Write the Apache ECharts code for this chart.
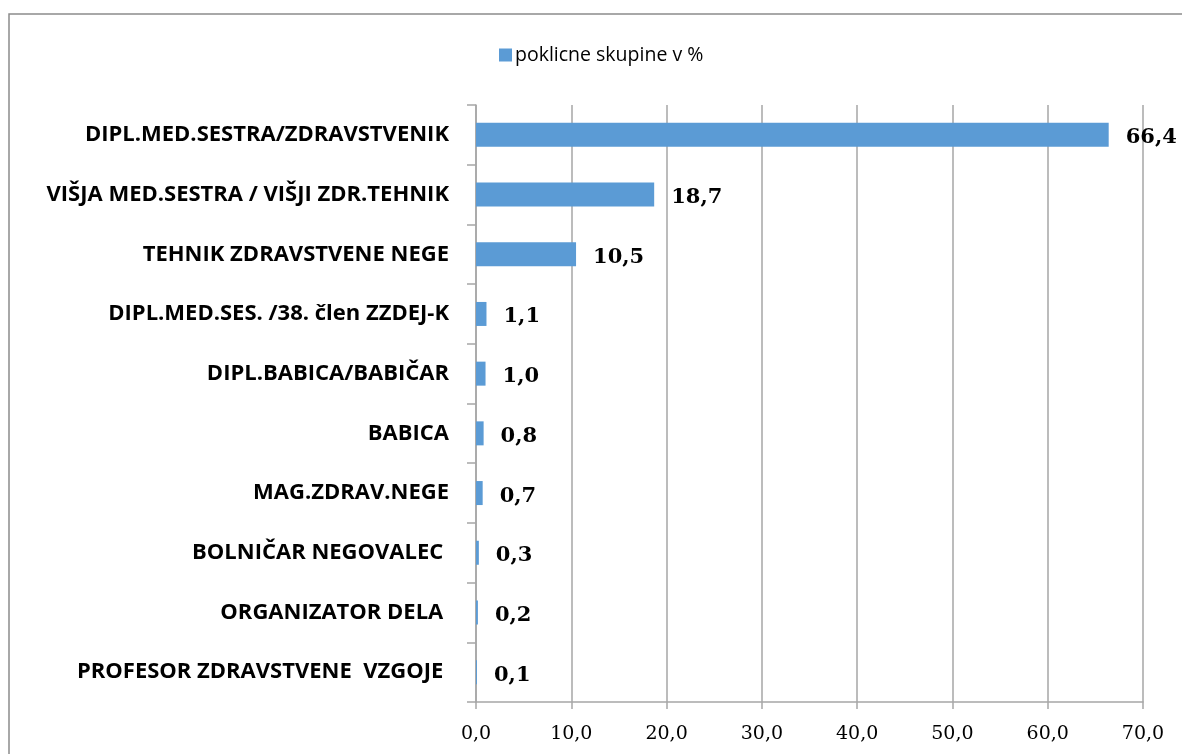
<!DOCTYPE html>
<html>
<head>
<meta charset="utf-8">
<script src="https://cdn.jsdelivr.net/npm/echarts@6/dist/echarts.min.js"></script>
<style>
  html, body { margin: 0; padding: 0; background: #fff; }
  #chart { width: 1182px; height: 754px; }
</style>
</head>
<body>
<div id="chart"></div>
<script>
// poklicne skupine (od zgoraj navzdol)
var categories = [
  'DIPL.MED.SESTRA/ZDRAVSTVENIK',
  'VIŠJA MED.SESTRA / VIŠJI ZDR.TEHNIK',
  'TEHNIK ZDRAVSTVENE NEGE',
  'DIPL.MED.SES. /38. člen ZZDEJ-K',
  'DIPL.BABICA/BABIČAR',
  'BABICA',
  'MAG.ZDRAV.NEGE',
  'BOLNIČAR NEGOVALEC ',
  'ORGANIZATOR DELA ',
  'PROFESOR ZDRAVSTVENE  VZGOJE '
];
var percentValues = [66.4, 18.7, 10.5, 1.1, 1.0, 0.8, 0.7, 0.3, 0.2, 0.1];
var seriesName = 'poklicne skupine v %';

var chart = echarts.init(document.getElementById('chart'));

function comma(v, d) {
  return Number(v).toFixed(d).replace('.', ',');
}

var option = {
  animation: false,
  backgroundColor: '#fff',
  graphic: [{
    type: 'rect',
    shape: { x: 9, y: 14, width: 1200, height: 800 },
    style: { fill: 'none', stroke: '#8c8c8c', lineWidth: 1.5 },
    silent: true
  }],
  legend: {
    data: [seriesName],
    left: 494,
    top: 40,
    itemWidth: 13,
    itemHeight: 13,
    itemGap: 6,
    icon: 'rect',
    textStyle: { fontFamily: 'Open Sans', fontSize: 19.5, color: '#000', padding: [0, 0, 0, -2] }
  },
  grid: {
    left: 476,
    right: 39,
    top: 105,
    bottom: 52,
    containLabel: false
  },
  xAxis: {
    type: 'value',
    min: 0,
    max: 70,
    interval: 10,
    axisLine: { show: true, lineStyle: { color: '#a6a6a6', width: 1.5 } },
    axisTick: { show: true, length: 7, lineStyle: { color: '#a6a6a6', width: 1.5 } },
    splitLine: { show: true, lineStyle: { color: '#a6a6a6', width: 1.5 } },
    axisLabel: {
      margin: 23,
      fontFamily: 'DejaVu Serif',
      fontSize: 19,
      color: '#000',
      formatter: function (v) { return comma(v, 1); }
    }
  },
  yAxis: {
    type: 'category',
    inverse: true,
    data: categories,
    axisLine: { show: true, lineStyle: { color: '#a6a6a6', width: 1.5 } },
    axisTick: { show: true, length: 9, lineStyle: { color: '#a6a6a6', width: 1.5 } },
    axisLabel: {
      margin: 27,
      fontFamily: 'Open Sans',
      fontWeight: 'bold',
      fontSize: 22,
      color: '#000'
    }
  },
  series: [{
    name: seriesName,
    type: 'bar',
    data: percentValues,
    barWidth: 24,
    itemStyle: { color: '#5b9bd5' },
    label: {
      show: true,
      position: 'right',
      distance: 17,
      offset: [0, 3],
      fontFamily: 'DejaVu Serif',
      fontWeight: 'bold',
      fontSize: 21,
      color: '#000',
      formatter: function (p) { return comma(p.value, 1); }
    }
  }]
};

chart.setOption(option);
</script>
</body>
</html>
